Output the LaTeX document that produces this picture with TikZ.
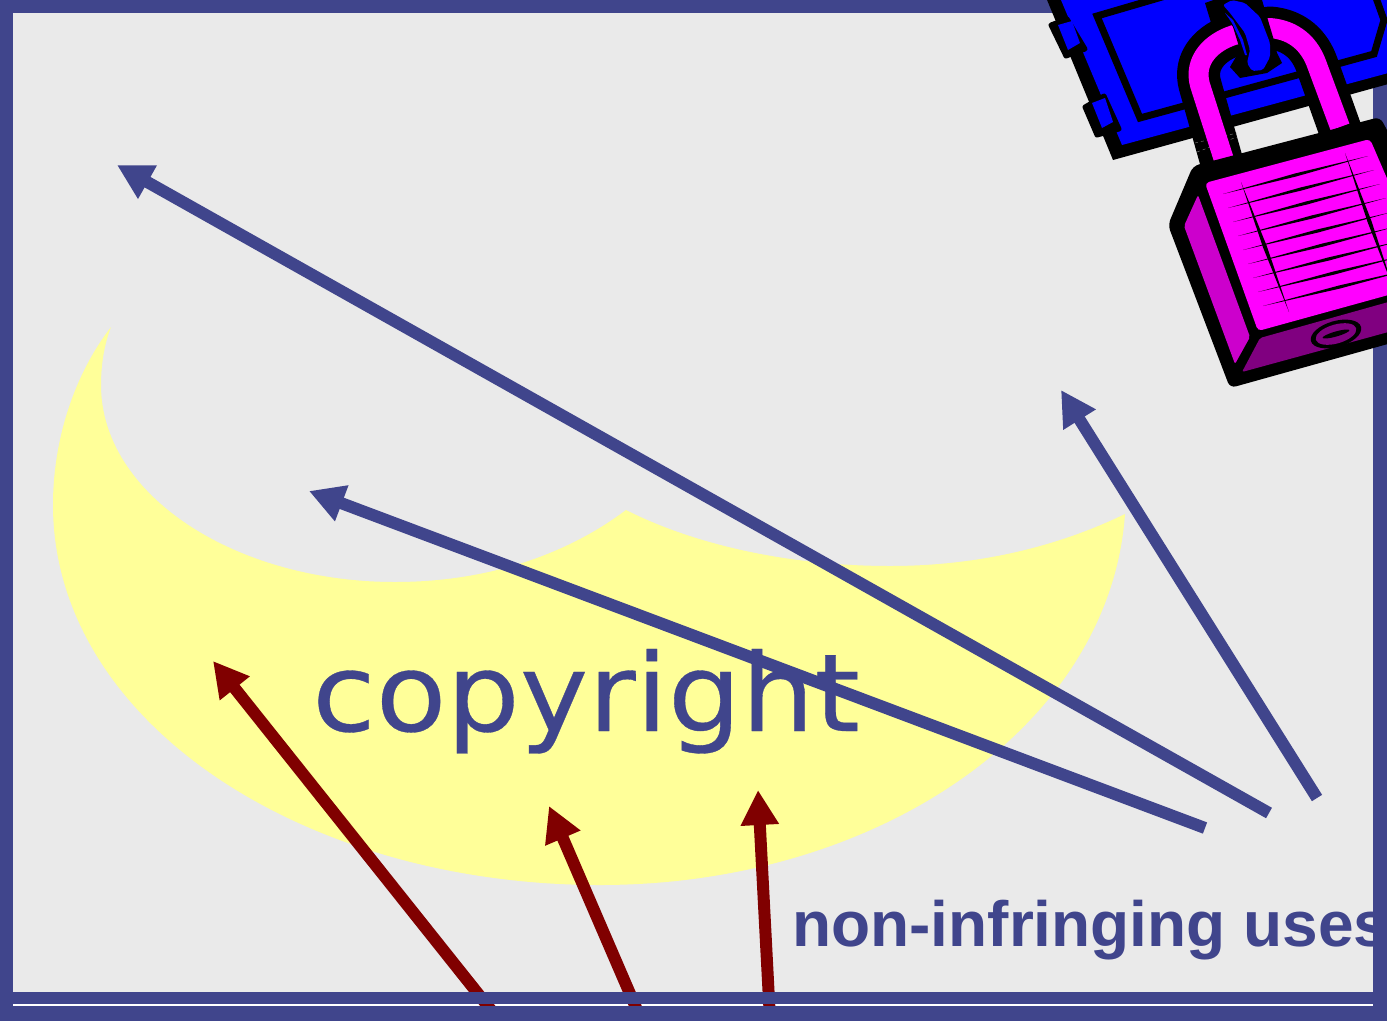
\documentclass[tikz,border=0pt]{standalone}
\usepackage{fontspec}
\usetikzlibrary{arrows.meta,calc}
\setmainfont{Liberation Sans}
\newfontfamily\copyfont[FakeStretch=1.07,FakeBold=0.3]{DejaVu Sans}
\definecolor{frameblue}{HTML}{40458C}
\definecolor{paper}{HTML}{EAEAEA}
\definecolor{crescent}{HTML}{FFFF99}
\definecolor{darkred}{HTML}{800000}
\definecolor{lockpink}{HTML}{FF00FF}
\definecolor{sidepurple}{HTML}{CC00CC}
\definecolor{basepurple}{HTML}{800080}
\definecolor{plateblue}{HTML}{0000FF}
\tikzset{
  x=1pt,y=-1pt,
  bluearrow/.style={draw=frameblue,line width=12pt,-{Triangle[length=35pt,width=36pt]}},
  redarrow/.style={draw=darkred,line width=12pt,-{Triangle[length=35pt,width=36pt]}},
  band/.style={fill=frameblue,draw=none},
  lockpart/.style={line join=round,draw},
}
\newcommand{\lensline}[5]{% x1 y1 x2 y2 half width
  \fill[black] (#1,#2) -- ($(#1,#2)!.5!(#3,#4)!#5pt!90:(#3,#4)$) -- (#3,#4)
     -- ($(#1,#2)!.5!(#3,#4)!#5pt!-90:(#3,#4)$) -- cycle;}
\begin{document}
\begin{tikzpicture}
\useasboundingbox (0,0) rectangle (1387,1021);
\fill[paper] (0,0) rectangle (1387,1021);
% crescent
\fill[crescent] (111,327) .. controls (74,375) and (53,440) .. (53,505)
  .. controls (53,720) and (300,885) .. (600,885)
  .. controls (880,885) and (1110,725) .. (1125,514)
  .. controls (1055,548) and (975,566) .. (890,566)
  .. controls (790,566) and (695,545) .. (626,510)
  .. controls (565,556) and (485,582) .. (395,582)
  .. controls (235,582) and (101,495) .. (101,385)
  .. controls (101,365) and (104,345) .. (111,327) -- cycle;
% white rule
\fill[white] (13,1004) rectangle (1373,1006);
% red arrows
\coordinate (r1a) at (491,1010); \coordinate (r1b) at (213,661);
\coordinate (r2a) at (637,1010); \coordinate (r2b) at (549,806);
\coordinate (r3a) at (769.5,1010); \coordinate (r3b) at (758,790);
\draw[redarrow] (r1a) -- (r1b);
\draw[redarrow] (r2a) -- (r2b);
\draw[redarrow] (r3a) -- (r3b);
% blue arrows and texts
\coordinate (b1a) at (1269,813); \coordinate (b1b) at (117,165);
\coordinate (b2a) at (1205,828); \coordinate (b2b) at (309,491);
\coordinate (b3a) at (1317,798); \coordinate (b3b) at (1061,390);
\node[anchor=base west,inner sep=0pt,text=frameblue,font=\copyfont\fontsize{108}{108}\selectfont] (copy) at (312,731) {copyright};
\node[anchor=base west,inner sep=0pt,text=frameblue,font=\bfseries\fontsize{64}{64}\selectfont] (uses) at (792,946) {non-infringing uses};
\draw[bluearrow] (b1a) -- (b1b);
\draw[bluearrow] (b2a) -- (b2b);
\draw[bluearrow] (b3a) -- (b3b);
% frame
\fill[band] (0,0) rectangle (1387,13);
\fill[band] (0,0) rectangle (13,1021);
\fill[band] (1373,0) rectangle (1387,1021);
\fill[band] (0,992) rectangle (1387,1004);
\fill[band] (0,1006) rectangle (1387,1021);
% padlock, clipped to the picture
\begin{scope}
\clip (0,0) rectangle (1387,1021);
% hasp plate
\fill[black] (1045,-5) -- (1113,160) -- (1392,83) -- (1392,-5) -- cycle;
\fill[plateblue] (1061,0) -- (1122,145) -- (1392,72) -- (1392,-5) -- (1070,-5) -- cycle;
\draw[black,line width=7pt,line join=miter] (1179,-8) -- (1097,16) -- (1140,118) -- (1374,54) -- (1384,20) -- (1375,-5);
% hinges
\fill[lockpart,black,line width=5pt] (1051,25) -- (1067,19) -- (1085,49) -- (1066,56) -- cycle;
\fill[plateblue] (1058,25) -- (1072,21) -- (1080,43) -- (1068,50) -- cycle;
\fill[lockpart,black,line width=5pt] (1085,107) -- (1104,96) -- (1119,129) -- (1097,135) -- cycle;
\fill[plateblue] (1092,103) -- (1105,98) -- (1113,122) -- (1102,128) -- cycle;
% strap behind the shackle
\fill[black] (1205,3) -- (1222,-3) -- (1240,-3) -- (1235,30) -- (1212,26) -- cycle;
% shackle
\draw[black,line width=43pt,line join=round] (1224,170) -- (1200,85) .. controls (1193,60) and (1212,42) .. (1234,35) -- (1270,28) .. controls (1295,30) and (1310,45) .. (1317,65) -- (1342,135);
\draw[gray,line width=.4pt,dashed] (1195,143) -- (1237,133);
\draw[gray,line width=.4pt,dashed] (1197,152) -- (1237,137);
\draw[lockpink,line width=20pt,line join=round] (1224,160) -- (1200,85) .. controls (1193,60) and (1212,42) .. (1234,35) -- (1270,28) .. controls (1295,30) and (1310,45) .. (1317,65) -- (1340,127);
% loop
\fill[black] (1222,0) -- (1262,0) -- (1273,37) -- (1277,53) -- (1282,63) -- (1267,73) -- (1240,78) -- (1230,67) -- (1240,50) -- (1233,27) -- (1222,10) -- cycle;
\fill[plateblue,rounded corners=2pt] (1223,5) -- (1232,0) -- (1245,3) -- (1260,17) -- (1270,43) -- (1270,57) -- (1263,70) -- (1252,71) -- (1247,63) -- (1250,50) -- (1245,33) -- (1230,13) -- cycle;
\fill[plateblue] (1225,13) -- (1233,20) -- (1243,40) -- (1247,55) -- (1245,55) -- (1240,40) -- (1232,23) -- cycle;
% body
\fill[black,rounded corners=6pt] (1193,166) -- (1380,117) -- (1395,145) -- (1395,342) -- (1230,388) -- (1168,225) -- cycle;
\fill[lockpink,rounded corners=4pt] (1205,183) -- (1370,139) -- (1392,190) -- (1392,294) -- (1258,331) -- cycle;
\fill[sidepurple,rounded corners=2pt] (1198,195) -- (1184,226) -- (1235,364) -- (1250,337) -- cycle;
\fill[basepurple,rounded corners=2pt] (1260,338) -- (1392,301) -- (1392,331) -- (1242,372) -- cycle;
% keyhole
\fill[black,rotate around={16:(1336,334)}] (1336,334) ellipse [x radius=26pt,y radius=13pt];
\fill[basepurple,rotate around={16:(1336,334)}] (1336,334) ellipse [x radius=21pt,y radius=9.5pt];
\fill[black,rotate around={16:(1336,334)}] (1336,334) ellipse [x radius=14pt,y radius=2.5pt];
% grating
\foreach \i in {0,...,8}{
  \lensline{\the\numexpr1223+5*\i\relax}{\the\numexpr194+14*\i\relax}{\the\numexpr1368+6*\i\relax}{\the\numexpr156+14*\i\relax}{1.6}
}
\lensline{1241}{182}{1289}{312}{2}
\lensline{1345}{153}{1394}{290}{2}
\end{scope}
\end{tikzpicture}
\end{document}
